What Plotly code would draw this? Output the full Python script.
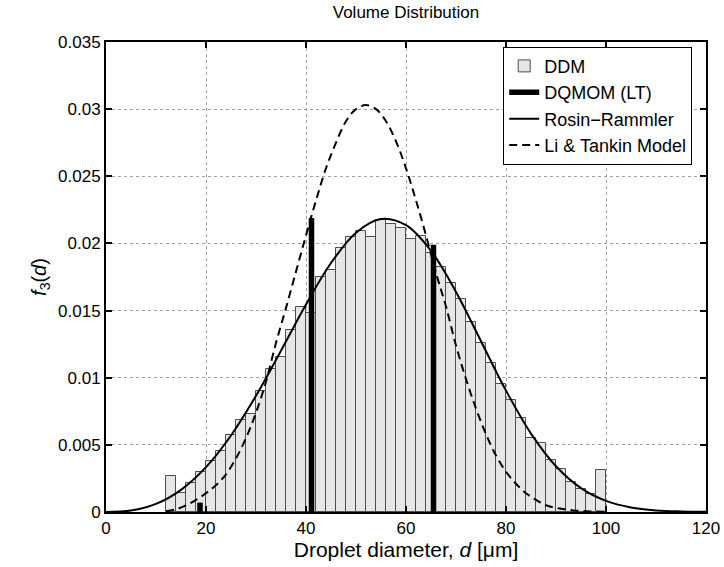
import plotly.graph_objects as go

# DDM histogram (bin centres, 2 um bins from 12 to 100)
bin_centers = [13, 15, 17, 19, 21, 23, 25, 27, 29, 31, 33, 35, 37, 39, 41, 43, 45, 47, 49, 51, 53, 55,
               57, 59, 61, 63, 65, 67, 69, 71, 73, 75, 77, 79, 81, 83, 85, 87, 89, 91, 93, 95, 97, 99]
ddm = [0.00271, 0.00139, 0.00218, 0.00300, 0.00380, 0.00455, 0.00574, 0.00686, 0.00728, 0.00904,
       0.01063, 0.01157, 0.01356, 0.01530, 0.01485, 0.01753, 0.01803, 0.01965, 0.02047, 0.02089,
       0.02047, 0.02171, 0.02146, 0.02114, 0.02032, 0.02052, 0.01932, 0.01823, 0.01704, 0.01587,
       0.01418, 0.01262, 0.01108, 0.00954, 0.00835, 0.00698, 0.00549, 0.00512, 0.00388, 0.00318,
       0.00221, 0.00171, 0.00134, 0.00311]

# DQMOM (LT) nodes
dq_pos = [18.8, 41.1, 65.5]
dq_weight = [0.0007, 0.0219, 0.0199]

# Rosin-Rammler fit
rr_d = [0, 5, 10, 15, 20, 25, 30, 35, 40, 45, 50, 55, 60, 65, 70, 75, 80, 85, 90, 95, 100, 105, 110, 115, 120]
rr_f = [0.0, 0.00011, 0.00060, 0.00165, 0.00334, 0.00570, 0.00865, 0.01201, 0.01545, 0.01854,
        0.02080, 0.02182, 0.02136, 0.01945, 0.01639, 0.01272, 0.00904, 0.00584, 0.00341, 0.00178,
        0.00083, 0.00034, 0.00012, 0.00004, 0.00001]

# Li & Tankin model
lt_d = [12, 14, 16, 18, 20, 22, 24, 26, 28, 30, 32, 34, 36, 38, 40, 42, 44, 46, 48, 50, 52, 54, 56,
        58, 60, 62, 64, 66, 68, 70, 72, 74, 76, 78, 80, 82, 84, 86, 88, 90, 92, 94, 96, 98, 100]
lt_f = [0.00005, 0.0002, 0.0005, 0.0009, 0.0014, 0.0020, 0.0028, 0.0040, 0.0055, 0.0074, 0.0097,
        0.0126, 0.0152, 0.0179, 0.0206, 0.0232, 0.0256, 0.0275, 0.0291, 0.0300, 0.0303, 0.0300,
        0.0291, 0.0276, 0.0256, 0.0232, 0.0206, 0.0178, 0.0153, 0.0124, 0.0099, 0.0077, 0.0058,
        0.0042, 0.0030, 0.0021, 0.0014, 0.0009, 0.0005, 0.0003, 0.0002, 0.0001, 0.00006, 0.00003,
        0.00001]

y_ticks = [0, 0.005, 0.01, 0.015, 0.02, 0.025, 0.03, 0.035]
y_ticktext = ['0', '0.005', '0.01', '0.015', '0.02', '0.025', '0.03', '0.035']

FONT = 'Liberation Sans, Arial, Helvetica, sans-serif'

fig = go.Figure()

fig.add_trace(go.Bar(
    x=bin_centers, y=ddm, width=2, name='DDM',
    marker=dict(color='#e6e6e6', line=dict(color='#4d4d4d', width=1)),
))

# vertical spikes for the quadrature nodes
dq_x, dq_y = [], []
for p, w in zip(dq_pos, dq_weight):
    dq_x += [p, p, None]
    dq_y += [0, w, None]
fig.add_trace(go.Scatter(x=dq_x, y=dq_y, mode='lines', name='DQMOM (LT)',
                         line=dict(color='black', width=5.5)))

fig.add_trace(go.Scatter(x=rr_d, y=rr_f, mode='lines', name='Rosin\u2212Rammler',
                         line=dict(color='black', width=2, shape='spline')))

fig.add_trace(go.Scatter(x=lt_d, y=lt_f, mode='lines', name='Li &amp; Tankin Model',
                         line=dict(color='black', width=2, dash='8px,5px', shape='spline')))

axis_style = dict(
    showline=True, linecolor='black', linewidth=2, mirror='allticks',
    ticks='inside', ticklen=6, tickcolor='black', tickwidth=1.5,
    showgrid=True, gridcolor='#a0a0a0', griddash='dot', gridwidth=1,
    zeroline=False, tickfont=dict(size=17, color='black'), automargin=False,
)

fig.update_xaxes(range=[0, 120], tickvals=[0, 20, 40, 60, 80, 100, 120],
                 title=dict(text='Droplet diameter, <i>d</i> [\u03bcm]', font=dict(size=21), standoff=0),
                 **axis_style)
fig.update_yaxes(range=[0, 0.035], tickvals=y_ticks, ticktext=y_ticktext,
                 title=dict(text='<i>f</i><sub>3</sub>(<i>d</i>)', font=dict(size=20), standoff=6),
                 **axis_style)

fig.update_layout(
    width=724, height=567,
    margin=dict(l=106, r=18, t=42, b=55, autoexpand=False),
    paper_bgcolor='white', plot_bgcolor='white',
    font=dict(family=FONT, color='black', size=17),
    title=dict(text='Volume Distribution', x=0.5, xref='paper', y=0.979, yanchor='middle',
               font=dict(size=17)),
    showlegend=True,
    legend=dict(x=0.977, y=0.99, xanchor='right', yanchor='top',
                bgcolor='white', bordercolor='black', borderwidth=1,
                font=dict(size=18), tracegroupgap=0),
    bargap=0,
)

# drop the default page margin so the figure fills the window exactly
fig.write_html("out.html", config={'displayModeBar': False},
               post_script="document.body.style.margin='0';")
